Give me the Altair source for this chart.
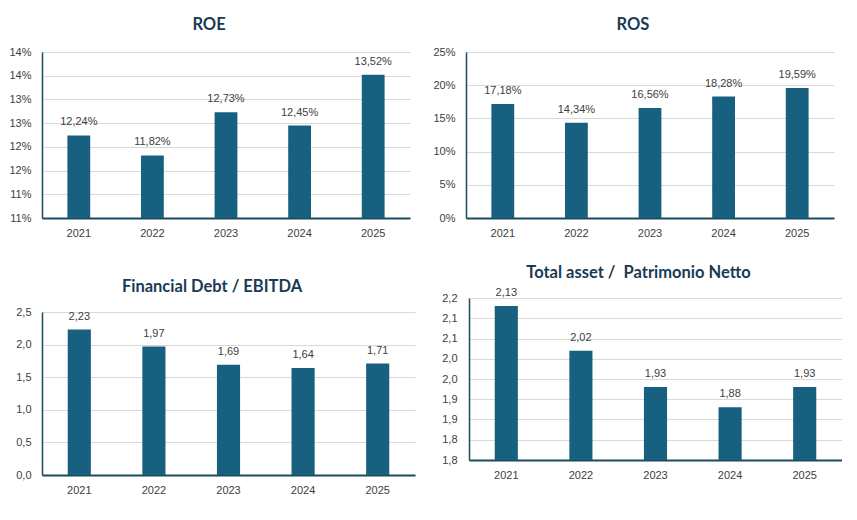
import altair as alt
import pandas as pd

years = ["2021", "2022", "2023", "2024", "2025"]
roe = [12.24, 11.82, 12.73, 12.45, 13.52]
ros = [17.18, 14.34, 16.56, 18.28, 19.59]
debt_ebitda = [2.23, 1.97, 1.69, 1.64, 1.71]
asset_pn = [2.13, 2.02, 1.93, 1.88, 1.93]

roe_ticks = [10.5, 11, 11.5, 12, 12.5, 13, 13.5, 14]
ros_ticks = [0, 5, 10, 15, 20, 25]
debt_ticks = [0, 0.5, 1, 1.5, 2, 2.5]
asset_ticks = [1.75, 1.8, 1.85, 1.9, 1.95, 2.0, 2.05, 2.1, 2.15]

BAR = "#17607F"
TEXT = "#404040"
TITLE = "#183B55"
AXIS = "#1B4A5F"
GRID = "#D9D9D9"
LFONT = "Liberation Sans"
TFONT = "Lato"


def panel(values, title, ticks, domain, ylab, txt, w, h, extent, lpad, toff, top_gap=0):
    df = pd.DataFrame({"year": years, "v": values})
    base = alt.Chart(df)
    x = alt.X("year:N", sort=years,
              scale=alt.Scale(paddingInner=0, paddingOuter=0),
              axis=alt.Axis(title=None, labelAngle=0, ticks=False, tickSize=0,
                            labelPadding=9, domainColor=AXIS, domainWidth=2,
                            labelColor=TEXT, labelFont=LFONT, labelFontSize=11,
                            grid=False))
    yscale = alt.Scale(domain=domain, nice=False, zero=False)
    if top_gap:
        yscale = alt.Scale(domain=domain, nice=False, zero=False, range=[h, top_gap])
    y = alt.Y("v:Q", scale=yscale,
              axis=alt.Axis(title=None, values=ticks, labelExpr=ylab, ticks=False,
                            tickSize=0, labelPadding=lpad, grid=True, gridColor=GRID,
                            gridWidth=1, domainColor=AXIS, domainWidth=1.5,
                            labelColor=TEXT, labelFont=LFONT, labelFontSize=11,
                            minExtent=extent, maxExtent=extent))
    bars = base.mark_bar(color=BAR, width=alt.RelativeBandSize(0.31)).encode(
        x=x, y=y, y2=alt.datum(domain[0]))
    labels = base.transform_calculate(lbl=txt).mark_text(
        baseline="alphabetic", dy=-10, font=LFONT, fontSize=11, color=TEXT
    ).encode(x=x, y=y, text="lbl:N")
    return alt.layer(bars, labels).properties(
        width=w, height=h,
        title=alt.TitleParams(text=title, anchor="middle", frame="bounds",
                              font=TFONT, fontSize=16.5, fontWeight="bold",
                              color=TITLE, offset=toff),
    )


pct2 = "replace(format(datum.v, '.2f'), '.', ',') + '%'"
num2 = "replace(format(datum.v, '.2f'), '.', ',')"

p1 = panel(roe, "ROE", roe_ticks, [10.5, 14],
           "floor(datum.value + 0.5 + 1e-6) + '%'", pct2, 368, 166, 34, 11, 13)
p2 = panel(ros, "ROS", ros_ticks, [0, 25],
           "format(datum.value, 'd') + '%'", pct2, 368, 166, 34, 11, 13)
p3 = panel(debt_ebitda, "Financial Debt / EBITDA", debt_ticks, [0, 2.5],
           "replace(format(datum.value, '.1f'), '.', ',')", num2, 373, 177, 33, 11, 3,
           top_gap=14)
p4 = panel(asset_pn, "Total asset /\u00a0 Patrimonio Netto", asset_ticks, [1.75, 2.15],
           "replace(format(floor(datum.value * 10 + 0.5 + 1e-6) / 10, '.1f'), '.', ',')",
           num2, 373, 162, 34, 12, 6)

top = alt.hconcat(p1, p2, spacing=22)
bottom = alt.hconcat(p3, p4, spacing=20)
chart = alt.vconcat(top, bottom, spacing=26).properties(
    padding={"top": 8, "left": 0, "right": 0, "bottom": 0}, background="white"
).configure_view(stroke=None)

chart.save("out.html", embed_options={"renderer": "svg", "actions": False})
